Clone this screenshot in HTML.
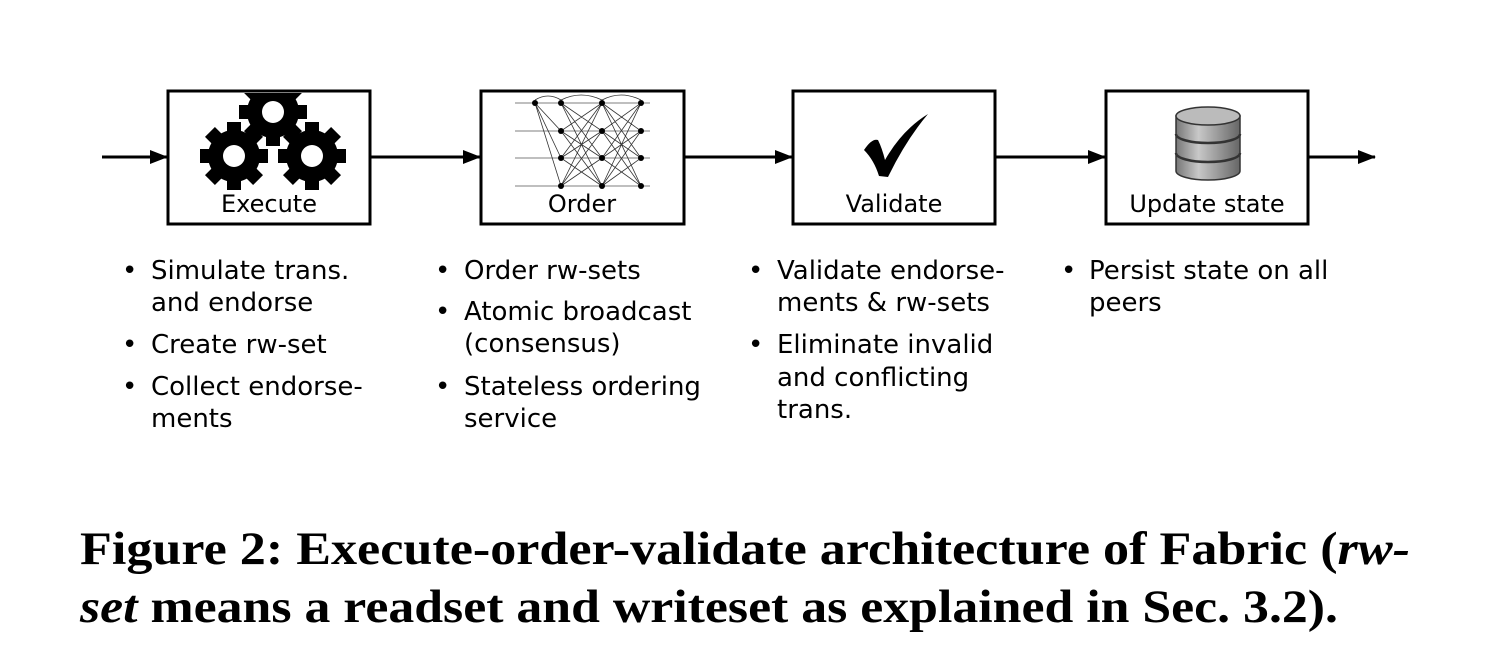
<!DOCTYPE html>
<html><head><meta charset="utf-8"><style>
html,body{margin:0;padding:0;background:#fff;width:1496px;height:668px;overflow:hidden}
svg{display:block}
.b{font-family:"DejaVu Sans","Liberation Sans",sans-serif;font-size:26px;fill:#000}
.l{font-family:"DejaVu Sans","Liberation Sans",sans-serif;font-size:24px;fill:#000}
.c{font-family:"Liberation Serif",serif;font-weight:bold;font-size:47px;fill:#000}
</style></head><body>
<svg width="1496" height="668" viewBox="0 0 1496 668" xmlns="http://www.w3.org/2000/svg">
<defs>
<marker id="ar" markerWidth="18" markerHeight="14" refX="17" refY="7" orient="auto" markerUnits="userSpaceOnUse"><path d="M0,0 L18,7 L0,14 Z" fill="#000"/></marker>
<linearGradient id="dbg" x1="0" x2="1"><stop offset="0" stop-color="#777"/><stop offset="0.35" stop-color="#c8c8c8"/><stop offset="1" stop-color="#666"/></linearGradient>
<g id="gear"><circle r="26" fill="#000"/><g fill="#000">
<rect x="-7" y="-34" width="14" height="68"/><rect x="-7" y="-34" width="14" height="68" transform="rotate(45)"/><rect x="-7" y="-34" width="14" height="68" transform="rotate(90)"/><rect x="-7" y="-34" width="14" height="68" transform="rotate(135)"/></g><circle r="11" fill="#fff"/></g>
<clipPath id="cb"><rect x="170" y="93" width="198" height="129"/></clipPath>
</defs>
<g stroke="#000" stroke-width="3" fill="none">
<line x1="102" y1="157" x2="167" y2="157" marker-end="url(#ar)"/>
<line x1="370" y1="157" x2="480" y2="157" marker-end="url(#ar)"/>
<line x1="684" y1="157" x2="792" y2="157" marker-end="url(#ar)"/>
<line x1="995" y1="157" x2="1105" y2="157" marker-end="url(#ar)"/>
<line x1="1308" y1="157" x2="1375" y2="157" marker-end="url(#ar)"/>
</g>
<g clip-path="url(#cb)">
<use href="#gear" x="273" y="112"/>
<use href="#gear" x="234" y="156"/>
<use href="#gear" x="312" y="156"/>
</g>
<g stroke="#000" stroke-width="3" fill="none">
<rect x="168" y="91" width="202" height="133"/>
<rect x="481" y="91" width="203" height="133"/>
<rect x="793" y="91" width="202" height="133"/>
<rect x="1106" y="91" width="202" height="133"/>
</g>
<!-- order network -->
<g stroke="#aaa" stroke-width="1.5"><line x1="515" y1="103" x2="650" y2="103"/><line x1="515" y1="131" x2="650" y2="131"/><line x1="515" y1="158" x2="650" y2="158"/><line x1="515" y1="186" x2="650" y2="186"/></g>
<g stroke="#333" stroke-width="0.8">
<path d="M535,103 L561,131 M535,103 L561,158 M535,103 L561,186 M561,103 L602,131 M561,103 L602,158 M561,103 L602,186 M561,131 L602,103 M561,131 L602,158 M561,131 L602,186 M561,158 L602,103 M561,158 L602,131 M561,158 L602,186 M561,186 L602,103 M561,186 L602,131 M561,186 L602,158 M602,103 L641,131 M602,103 L641,158 M602,103 L641,186 M602,131 L641,103 M602,131 L641,158 M602,131 L641,186 M602,158 L641,103 M602,158 L641,131 M602,158 L641,186 M602,186 L641,103 M602,186 L641,131 M602,186 L641,158"/>
<path d="M535,100 Q548,92 561,100 M561,100 Q581,90 602,100 M602,100 Q621,90 641,100" fill="none"/>
</g>
<g fill="#000"><circle cx="535" cy="103" r="3"/><circle cx="561" cy="103" r="3"/><circle cx="602" cy="103" r="3"/><circle cx="641" cy="103" r="3"/>
<circle cx="561" cy="131" r="3"/><circle cx="602" cy="131" r="3"/><circle cx="641" cy="131" r="3"/>
<circle cx="561" cy="158" r="3"/><circle cx="602" cy="158" r="3"/><circle cx="641" cy="158" r="3"/>
<circle cx="561" cy="186" r="3"/><circle cx="602" cy="186" r="3"/><circle cx="641" cy="186" r="3"/></g>
<!-- check -->
<path d="M864,150 Q872,138 878,140 Q882,148 885,160 Q902,130 928,114 Q906,140 888,177 L879,176 Q874,160 864,150 Z" fill="#000"/>
<!-- database -->
<g stroke="#333" stroke-width="1.5">
<path d="M1176,116 L1176,171 A32,9 0 0 0 1240,171 L1240,116 Z" fill="url(#dbg)"/>
<ellipse cx="1208" cy="116" rx="32" ry="9" fill="#bbb"/>
<path d="M1176,134 A32,9 0 0 0 1240,134 M1176,153 A32,9 0 0 0 1240,153" fill="none" stroke-width="2.5"/>
</g>
<text class="l" x="269" y="212" text-anchor="middle">Execute</text>
<text class="l" x="582" y="212" text-anchor="middle">Order</text>
<text class="l" x="894" y="212" text-anchor="middle">Validate</text>
<text class="l" x="1207" y="212" text-anchor="middle">Update state</text>
<g class="b">
<text x="122" y="279">•</text><text x="151" y="279">Simulate trans.</text><text x="151" y="311">and endorse</text>
<text x="122" y="353">•</text><text x="151" y="353">Create rw-set</text>
<text x="122" y="395">•</text><text x="151" y="395">Collect endorse-</text><text x="151" y="427">ments</text>
<text x="435" y="279">•</text><text x="464" y="279">Order rw-sets</text>
<text x="435" y="320">•</text><text x="464" y="320">Atomic broadcast</text><text x="464" y="352">(consensus)</text>
<text x="435" y="395">•</text><text x="464" y="395">Stateless ordering</text><text x="464" y="427">service</text>
<text x="748" y="279">•</text><text x="777" y="279">Validate endorse-</text><text x="777" y="311">ments &amp; rw-sets</text>
<text x="748" y="353">•</text><text x="777" y="353">Eliminate invalid</text><text x="777" y="386">and conflicting</text><text x="777" y="418">trans.</text>
<text x="1061" y="279">•</text><text x="1089" y="279">Persist state on all</text><text x="1089" y="311">peers</text>
</g>
<text class="c" x="80" y="564" textLength="1330" lengthAdjust="spacingAndGlyphs">Figure 2: Execute-order-validate architecture of Fabric (<tspan font-style="italic">rw-</tspan></text>
<text class="c" x="80" y="622" textLength="1258" lengthAdjust="spacingAndGlyphs"><tspan font-style="italic">set</tspan> means a readset and writeset as explained in Sec. 3.2).</text>
</svg>
</body></html>
